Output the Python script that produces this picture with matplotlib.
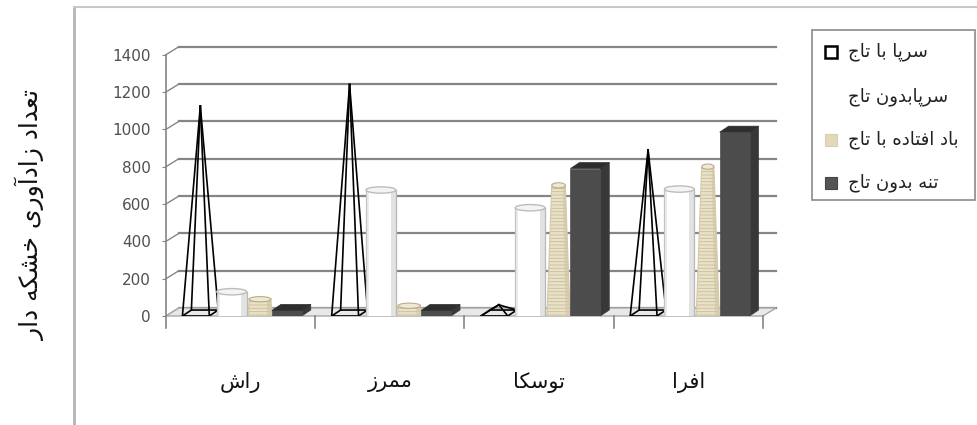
import matplotlib
matplotlib.use("Agg")
import matplotlib.pyplot as plt
from matplotlib.patches import Polygon, Rectangle, Ellipse

# data
categories = ["راش", "ممرز", "توسکا", "افرا"]
series_names = ["سرپا با تاج", "سرپابدون تاج", "باد افتاده با تاج", "تنه بدون تاج"]
standing_crown = [1125, 1240, 60, 890]      # pyramids
standing_nocrown = [130, 675, 580, 680]     # cylinders
windfall_crown = [90, 55, 700, 800]         # cones
trunk_nocrown = [30, 30, 790, 985]          # boxes
yticks = [0, 200, 400, 600, 800, 1000, 1200, 1400]
ylabel = "تعداد زادآوری خشکه دار"

# --- minimal arabic/persian shaping (matplotlib has no shaper) ---
FORMS = {
    "ا": (0xFE8D, 0xFE8E, None, None), "آ": (0xFE81, 0xFE82, None, None),
    "د": (0xFEA9, 0xFEAA, None, None), "ر": (0xFEAD, 0xFEAE, None, None),
    "ز": (0xFEAF, 0xFEB0, None, None), "و": (0xFEED, 0xFEEE, None, None),
    "ب": (0xFE8F, 0xFE90, 0xFE91, 0xFE92), "ت": (0xFE95, 0xFE96, 0xFE97, 0xFE98),
    "ج": (0xFE9D, 0xFE9E, 0xFE9F, 0xFEA0), "خ": (0xFEA5, 0xFEA6, 0xFEA7, 0xFEA8),
    "س": (0xFEB1, 0xFEB2, 0xFEB3, 0xFEB4), "ش": (0xFEB5, 0xFEB6, 0xFEB7, 0xFEB8),
    "ع": (0xFEC9, 0xFECA, 0xFECB, 0xFECC), "ف": (0xFED1, 0xFED2, 0xFED3, 0xFED4),
    "م": (0xFEE1, 0xFEE2, 0xFEE3, 0xFEE4), "ن": (0xFEE5, 0xFEE6, 0xFEE7, 0xFEE8),
    "ه": (0xFEE9, 0xFEEA, 0xFEEB, 0xFEEC), "پ": (0xFB56, 0xFB57, 0xFB58, 0xFB59),
    "ک": (0xFB8E, 0xFB8F, 0xFB90, 0xFB91), "ی": (0xFBFC, 0xFBFD, 0xFBFE, 0xFBFF),
}


def fa(s):
    out = []
    for i, ch in enumerate(s):
        if ch not in FORMS:
            out.append(ch)
            continue
        prev = s[i - 1] if i > 0 else None
        nxt = s[i + 1] if i + 1 < len(s) else None
        jp = prev in FORMS and FORMS[prev][2] is not None
        jn = nxt in FORMS and FORMS[ch][2] is not None
        f = FORMS[ch]
        if jp and jn:
            g = f[3]
        elif jp:
            g = f[1]
        elif jn:
            g = f[2]
        else:
            g = f[0]
        out.append(chr(g))
    return "".join(reversed(out))


plt.rcParams["font.family"] = ["DejaVu Sans"]
plt.rcParams["hatch.linewidth"] = 0.6

W, H = 977, 425
fig = plt.figure(figsize=(W / 100, H / 100), dpi=100)
# axes: value 0 at y=316px, x from 166px, 149.25 px per category
ax = fig.add_axes([166 / W, 109 / H, 614 / W, 280 / H])
ax.set_xlim(0, 614 / 149.25)
ax.set_ylim(0, 1500)
for s in ax.spines.values():
    s.set_visible(False)

dxw, dyw = 0.087, 43    # back wall depth
dxb, dyb = 0.06, 32     # bar depth
gc = "#858585"
n = len(categories)

# back wall gridlines + connectors
for v in yticks:
    ax.plot([dxw, n + dxw], [v + dyw, v + dyw], color=gc, lw=1.6, zorder=1, clip_on=False)
    ax.plot([0, dxw], [v, v + dyw], color=gc, lw=1.0, zorder=1, clip_on=False)
# floor
ax.add_patch(Polygon([(0, 0), (n, 0), (n + dxw, dyw), (dxw, dyw)], closed=True,
                     facecolor="#e8e8e8", edgecolor="#a8a8a8", lw=1, zorder=1.5, clip_on=False))
# front axis and category ticks
ax.plot([0, 0], [-64, 1400], color=gc, lw=1.2, zorder=2, clip_on=False)
for k in range(1, n + 1):
    ax.plot([k, k], [-64, 0], color=gc, lw=1.2, zorder=2, clip_on=False)

ax.set_yticks(yticks)
ax.set_yticklabels([str(v) for v in yticks], fontsize=11, color="#505050")
ax.tick_params(axis="y", length=3, color=gc, pad=8)
ax.set_xticks([k + 0.5 for k in range(n)])
ax.set_xticklabels([fa(c) for c in categories], fontsize=15, color="#111111")
ax.tick_params(axis="x", length=0, pad=40)

offs = [0.20, 0.44, 0.63, 0.81]

for i in range(n):
    # pyramid (wireframe)
    c = i + offs[0]
    w = 0.18
    h = standing_crown[i]
    FL, FR = (c - w / 2, 0), (c + w / 2, 0)
    BR, BL = (c + w / 2 + dxb, dyb), (c - w / 2 + dxb, dyb)
    A = (c + dxb / 2, h)
    ax.add_patch(Polygon([FL, FR, BR, BL], closed=True, fill=False, edgecolor="black",
                         lw=1.2, zorder=3))
    for p in (BL, BR, FL, FR):
        ax.plot([p[0], A[0]], [p[1], A[1]], color="black", lw=1.2, zorder=3)

    # cylinder
    c = i + offs[1]
    w = 0.2
    h = standing_nocrown[i]
    ax.add_patch(Rectangle((c - w / 2, 0), w, h, facecolor="white", edgecolor="none", zorder=4))
    ax.add_patch(Rectangle((c + w / 2 - 0.035, 0), 0.035, h, facecolor="#e2e2e2",
                           edgecolor="none", zorder=4))
    ax.add_patch(Rectangle((c - w / 2, 0), 0.02, h, facecolor="#ececec",
                           edgecolor="none", zorder=4))
    ax.plot([c - w / 2, c - w / 2], [0, h], color="#c4c4c4", lw=0.9, zorder=4)
    ax.plot([c + w / 2, c + w / 2], [0, h], color="#b8b8b8", lw=0.9, zorder=4)
    ax.add_patch(Ellipse((c, h), w, 34, facecolor="#f4f4f4", edgecolor="#bdbdbd",
                         lw=1.0, zorder=4))

    # truncated cone
    c = i + offs[2]
    w0 = 0.155
    h = windfall_crown[i]
    wt = w0 * (1 - h / 1700)
    pts = [(c - w0 / 2, 0), (c + w0 / 2, 0), (c + wt / 2, h), (c - wt / 2, h)]
    ax.add_patch(Polygon(pts, closed=True, facecolor="#e9e1c8", edgecolor="#c9be9b",
                         lw=0, hatch="-----", zorder=5))
    ax.add_patch(Polygon([(c + w0 / 2 - 0.03, 0), (c + w0 / 2, 0), (c + wt / 2, h),
                          (c + wt / 2 - 0.03 * wt / w0, h)], closed=True,
                         facecolor="#cfc4a2", edgecolor="none", alpha=0.6, zorder=5))
    ax.add_patch(Polygon(pts, closed=True, fill=False, edgecolor="#d3c9aa", lw=0.8, zorder=5))
    ax.add_patch(Ellipse((c, h), wt, 28, facecolor="#efe8d4", edgecolor="#b9ad88",
                         lw=0.8, zorder=5))

    # box
    c = i + offs[3]
    w = 0.2
    h = trunk_nocrown[i]
    ax.add_patch(Polygon([(c + w / 2, 0), (c + w / 2 + dxb, dyb), (c + w / 2 + dxb, h + dyb),
                          (c + w / 2, h)], closed=True, facecolor="#383838",
                         edgecolor="#383838", lw=0.5, zorder=6))
    ax.add_patch(Rectangle((c - w / 2, 0), w, h, facecolor="#4c4c4c", edgecolor="#4c4c4c",
                           lw=0.5, zorder=6))
    ax.add_patch(Polygon([(c - w / 2, h), (c + w / 2, h), (c + w / 2 + dxb, h + dyb),
                          (c - w / 2 + dxb, h + dyb)], closed=True, facecolor="#2e2e2e",
                         edgecolor="#2e2e2e", lw=0.5, zorder=6))

# outer chart frame
fig.add_artist(plt.Line2D([74 / W, 74 / W], [0, 1 - 7 / H], color="#b4b4b4", lw=2))
fig.add_artist(plt.Line2D([74 / W, 1], [1 - 7 / H, 1 - 7 / H], color="#c8c8c8", lw=1.5))

# y label
fig.text(30 / W, 1 - 215 / H, fa(ylabel), rotation=90, fontsize=18, color="#111111",
         ha="center", va="center")

# legend (drawn by hand: markers on left, RTL text)
fig.add_artist(Rectangle((812 / W, 1 - 200 / H), 163 / W, 170 / H, transform=fig.transFigure,
                         facecolor="white", edgecolor="#8a8a8a", lw=1.2))
leg_face = ["white", "white", "#e3d8b8", "#555555"]
leg_edge = ["black", "none", "#d8cfb0", "#444444"]
leg_lw = [1.8, 0, 0.8, 0.8]
rows_y = [52, 97, 140, 183]
for k in range(4):
    yc = 1 - rows_y[k] / H
    fig.add_artist(Rectangle((825 / W, yc - 6 / H), 12 / W, 12 / H, transform=fig.transFigure,
                             facecolor=leg_face[k], edgecolor=leg_edge[k], lw=leg_lw[k]))
    fig.text(848 / W, yc, fa(series_names[k]), fontsize=13, color="#222222",
             ha="left", va="center")

fig.savefig("out.png", dpi=100)
